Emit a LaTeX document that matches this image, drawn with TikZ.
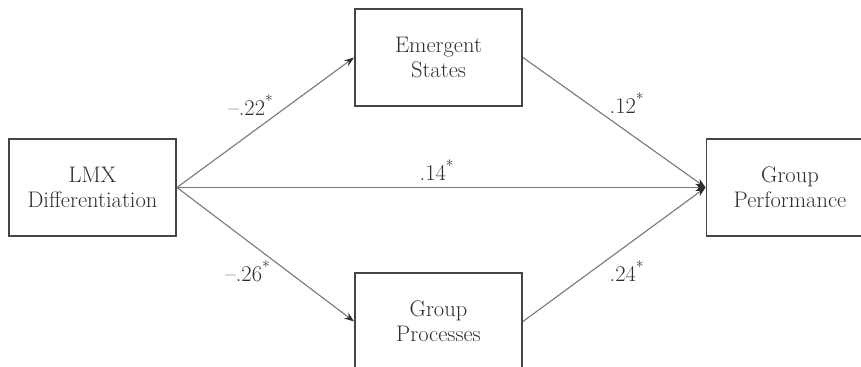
\documentclass[tikz,border=0pt]{standalone}
\usepackage{tikz}
\usetikzlibrary{arrows.meta}
\definecolor{PathLine}{HTML}{7A7A7A}
\definecolor{BoxLine}{HTML}{454545}
\definecolor{BoxText}{HTML}{2E2E2E}

\tikzset{
  var/.style={draw=BoxLine,line width=1.3pt,text=BoxText,align=center,
    minimum width=4.175cm,minimum height=2.425cm,inner sep=0pt,
    font=\fontsize{16}{17.7}\selectfont},
  path/.style={draw=PathLine,line width=0.8pt,
    -{Stealth[length=7pt,width=5pt,color=BoxText]}},
  coef/.style={text=BoxText,inner sep=0pt,font=\fontsize{16}{18}\selectfont}
}

\begin{document}
\begin{tikzpicture}[x=0.025cm,y=-0.025cm]
      \useasboundingbox (0,0) rectangle (861,367);
      \clip (0,0) rectangle (861,367);
      \node[var] (lmx) at (92.5,187.5) {LMX\\Differentiation};
      \node[var] (emerg) at (438.5,57.5) {Emergent\\States};
      \node[var] (proc) at (438.5,321.5) {Group\\Processes};
      \node[var] (perf) at (790,187.5) {Group\\Performance};
      % paths
      \draw[path] (lmx.east) -- (emerg.west);
      \draw[path] (lmx.east) -- (proc.west);
      \draw[path] (lmx.east) -- (perf.west);
      \draw[path] (emerg.east) -- (perf.west);
      \draw[path] (proc.east) -- (perf.west);
      % coefficients
      \node[coef] (a1) at (251,105) {\textendash.22\textsuperscript{*}};
      \node[coef] (c1) at (437,170) {.14\textsuperscript{*}};
      \node[coef] (b1) at (627,103) {.12\textsuperscript{*}};
      \node[coef] (a2) at (248,271) {\textendash.26\textsuperscript{*}};
      \node[coef] (b2) at (627,271) {.24\textsuperscript{*}};
    \end{tikzpicture}
\end{document}
